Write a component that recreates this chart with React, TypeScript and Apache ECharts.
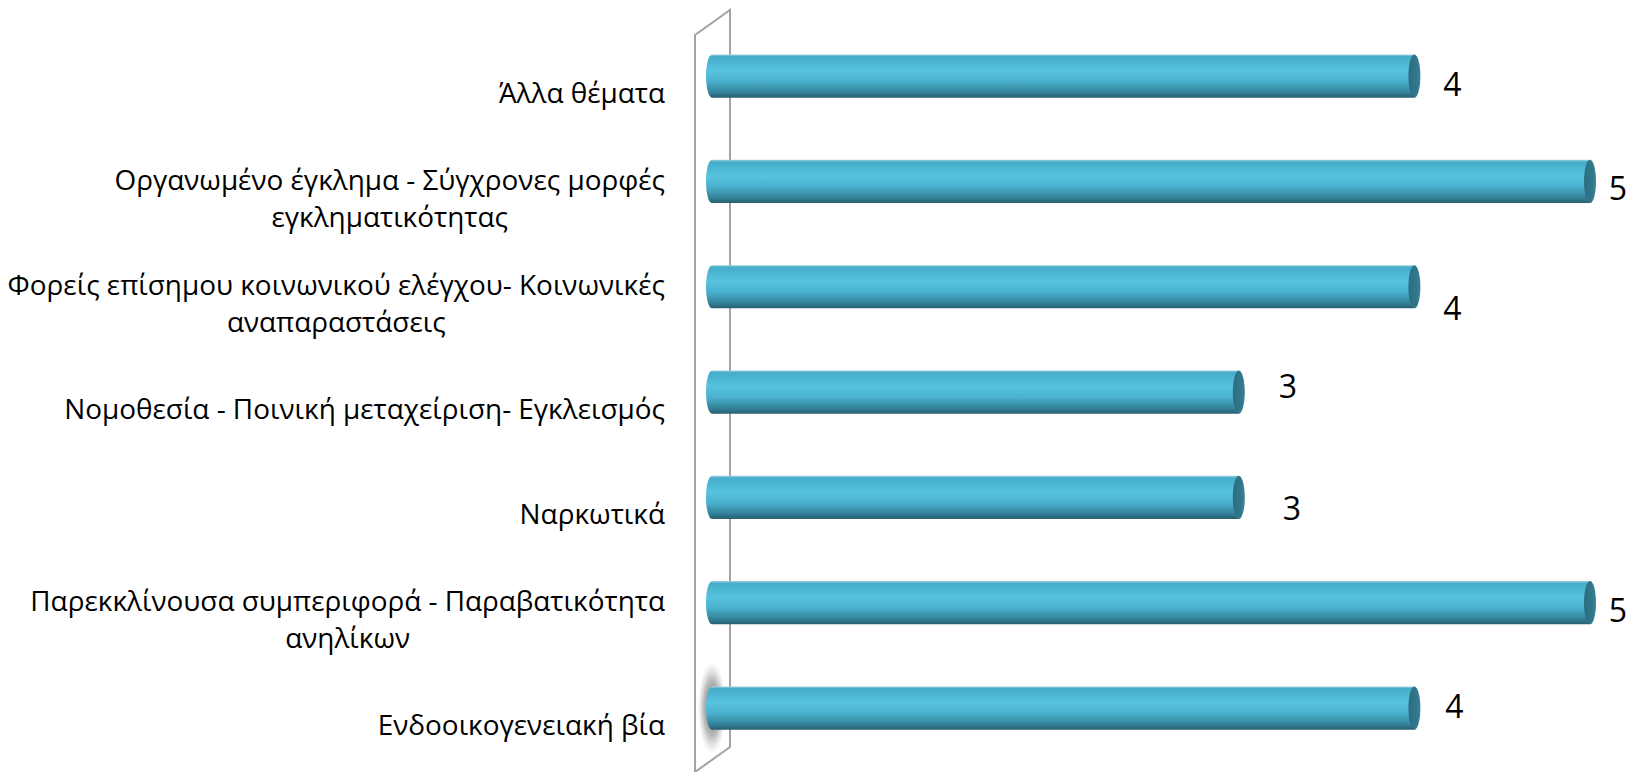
import React, { useEffect, useRef } from "react";
import * as echarts from "echarts";

// Categories listed from top to bottom
const categories: string[] = [
  "Άλλα θέματα",
  "Οργανωμένο έγκλημα - Σύγχρονες μορφές\nεγκληματικότητας",
  "Φορείς επίσημου κοινωνικού ελέγχου- Κοινωνικές\nαναπαραστάσεις",
  "Νομοθεσία - Ποινική μεταχείριση- Εγκλεισμός",
  "Ναρκωτικά",
  "Παρεκκλίνουσα συμπεριφορά - Παραβατικότητα\nανηλίκων",
  "Ενδοοικογενειακή βία",
];
const values: number[] = [4, 5, 4, 3, 3, 5, 4];

// Value label nudges (style only)
const labelNudgeX: number[] = [38, 28, 38, 49, 53, 28, 40];
const labelNudgeY: number[] = [7, 6, 21, -7, 10, 7, -3];

const FONT = "'Open Sans', 'Noto Sans', sans-serif";

export default function App() {
  const ref = useRef<HTMLDivElement>(null);
  useEffect(() => {
    if (!ref.current) return;
    const chart = echarts.init(ref.current, null, { renderer: "svg" });

    const bodyGrad = () =>
      new echarts.graphic.LinearGradient(0, 0, 0, 1, [
        { offset: 0, color: "#9fd0dd" },
        { offset: 0.05, color: "#44adca" },
        { offset: 0.38, color: "#57c3df" },
        { offset: 0.62, color: "#4ab1ce" },
        { offset: 0.86, color: "#35859d" },
        { offset: 1, color: "#275f6f" },
      ]);
    const capGrad = () =>
      new echarts.graphic.LinearGradient(0, 0, 1, 0, [
        { offset: 0, color: "#2c6d80" },
        { offset: 0.7, color: "#31788b" },
        { offset: 1, color: "#3b8599" },
      ]);

    const option: any = {
      animation: false,
      backgroundColor: "#ffffff",
      grid: { left: 712, right: 55, top: 23.4, bottom: 11.3, containLabel: false },
      xAxis: {
        type: "value",
        min: 0,
        max: 5,
        show: false,
      },
      yAxis: {
        type: "category",
        inverse: true,
        data: categories,
        axisLine: { show: false },
        axisTick: { show: false },
        splitLine: { show: false },
        axisLabel: {
          margin: 47,
          padding: [32, 0, 0, 0],
          formatter: (v: string) =>
            v
              .split("\n")
              .map((l) => `{c|${l}}`)
              .join("\n"),
          rich: {
            c: {
              align: "center",
              fontSize: 27.9,
              fontFamily: FONT,
              color: "#000000",
              lineHeight: 37,
            },
          },
        },
      },
      graphic: [
        {
          type: "ellipse",
          z: 1,
          shape: { cx: 712, cy: 708, rx: 14, ry: 46 },
          style: {
            fill: new echarts.graphic.RadialGradient(0.5, 0.5, 0.5, [
              { offset: 0, color: "rgba(70,70,70,0.85)" },
              { offset: 0.6, color: "rgba(100,100,100,0.45)" },
              { offset: 1, color: "rgba(160,160,160,0)" },
            ]),
          },
        },
        {
          type: "polygon",
          z: 2,
          shape: {
            points: [
              [695, 35],
              [730, 10],
              [730, 747],
              [695, 772],
            ],
          },
          style: { fill: "none", stroke: "#a3a3a3", lineWidth: 2 },
        },
      ],
      series: [
        {
          type: "custom",
          z: 3,
          encode: { x: 0, y: 1 },
          data: values.map((v, i) => [v, i]),
          renderItem: (params: any, api: any) => {
            const v = api.value(0);
            const i = api.value(1);
            const s = api.coord([0, i]);
            const e = api.coord([v, i]);
            const band = api.size([0, 1])[1];
            const h = band * 0.41;
            const cy = s[1];
            const rx = 6;
            return {
              type: "group",
              children: [
                {
                  type: "ellipse",
                  shape: { cx: s[0], cy, rx, ry: h / 2 },
                  style: { fill: bodyGrad() },
                },
                {
                  type: "rect",
                  shape: { x: s[0], y: cy - h / 2, width: e[0] - s[0], height: h },
                  style: { fill: bodyGrad() },
                },
                {
                  type: "ellipse",
                  shape: { cx: e[0], cy, rx, ry: h / 2 },
                  style: { fill: capGrad() },
                },
                {
                  type: "text",
                  style: {
                    text: String(v),
                    x: e[0] + labelNudgeX[i],
                    y: cy + labelNudgeY[i],
                    align: "center",
                    verticalAlign: "middle",
                    fontSize: 32,
                    fontFamily: FONT,
                    fill: "#000000",
                  },
                },
              ],
            };
          },
        },
      ],
    };
    chart.setOption(option);
    return () => chart.dispose();
  }, []);
  return (
    <div
      ref={ref}
      style={{ position: "fixed", left: 0, top: 0, width: 1645, height: 772 }}
    />
  );
}
